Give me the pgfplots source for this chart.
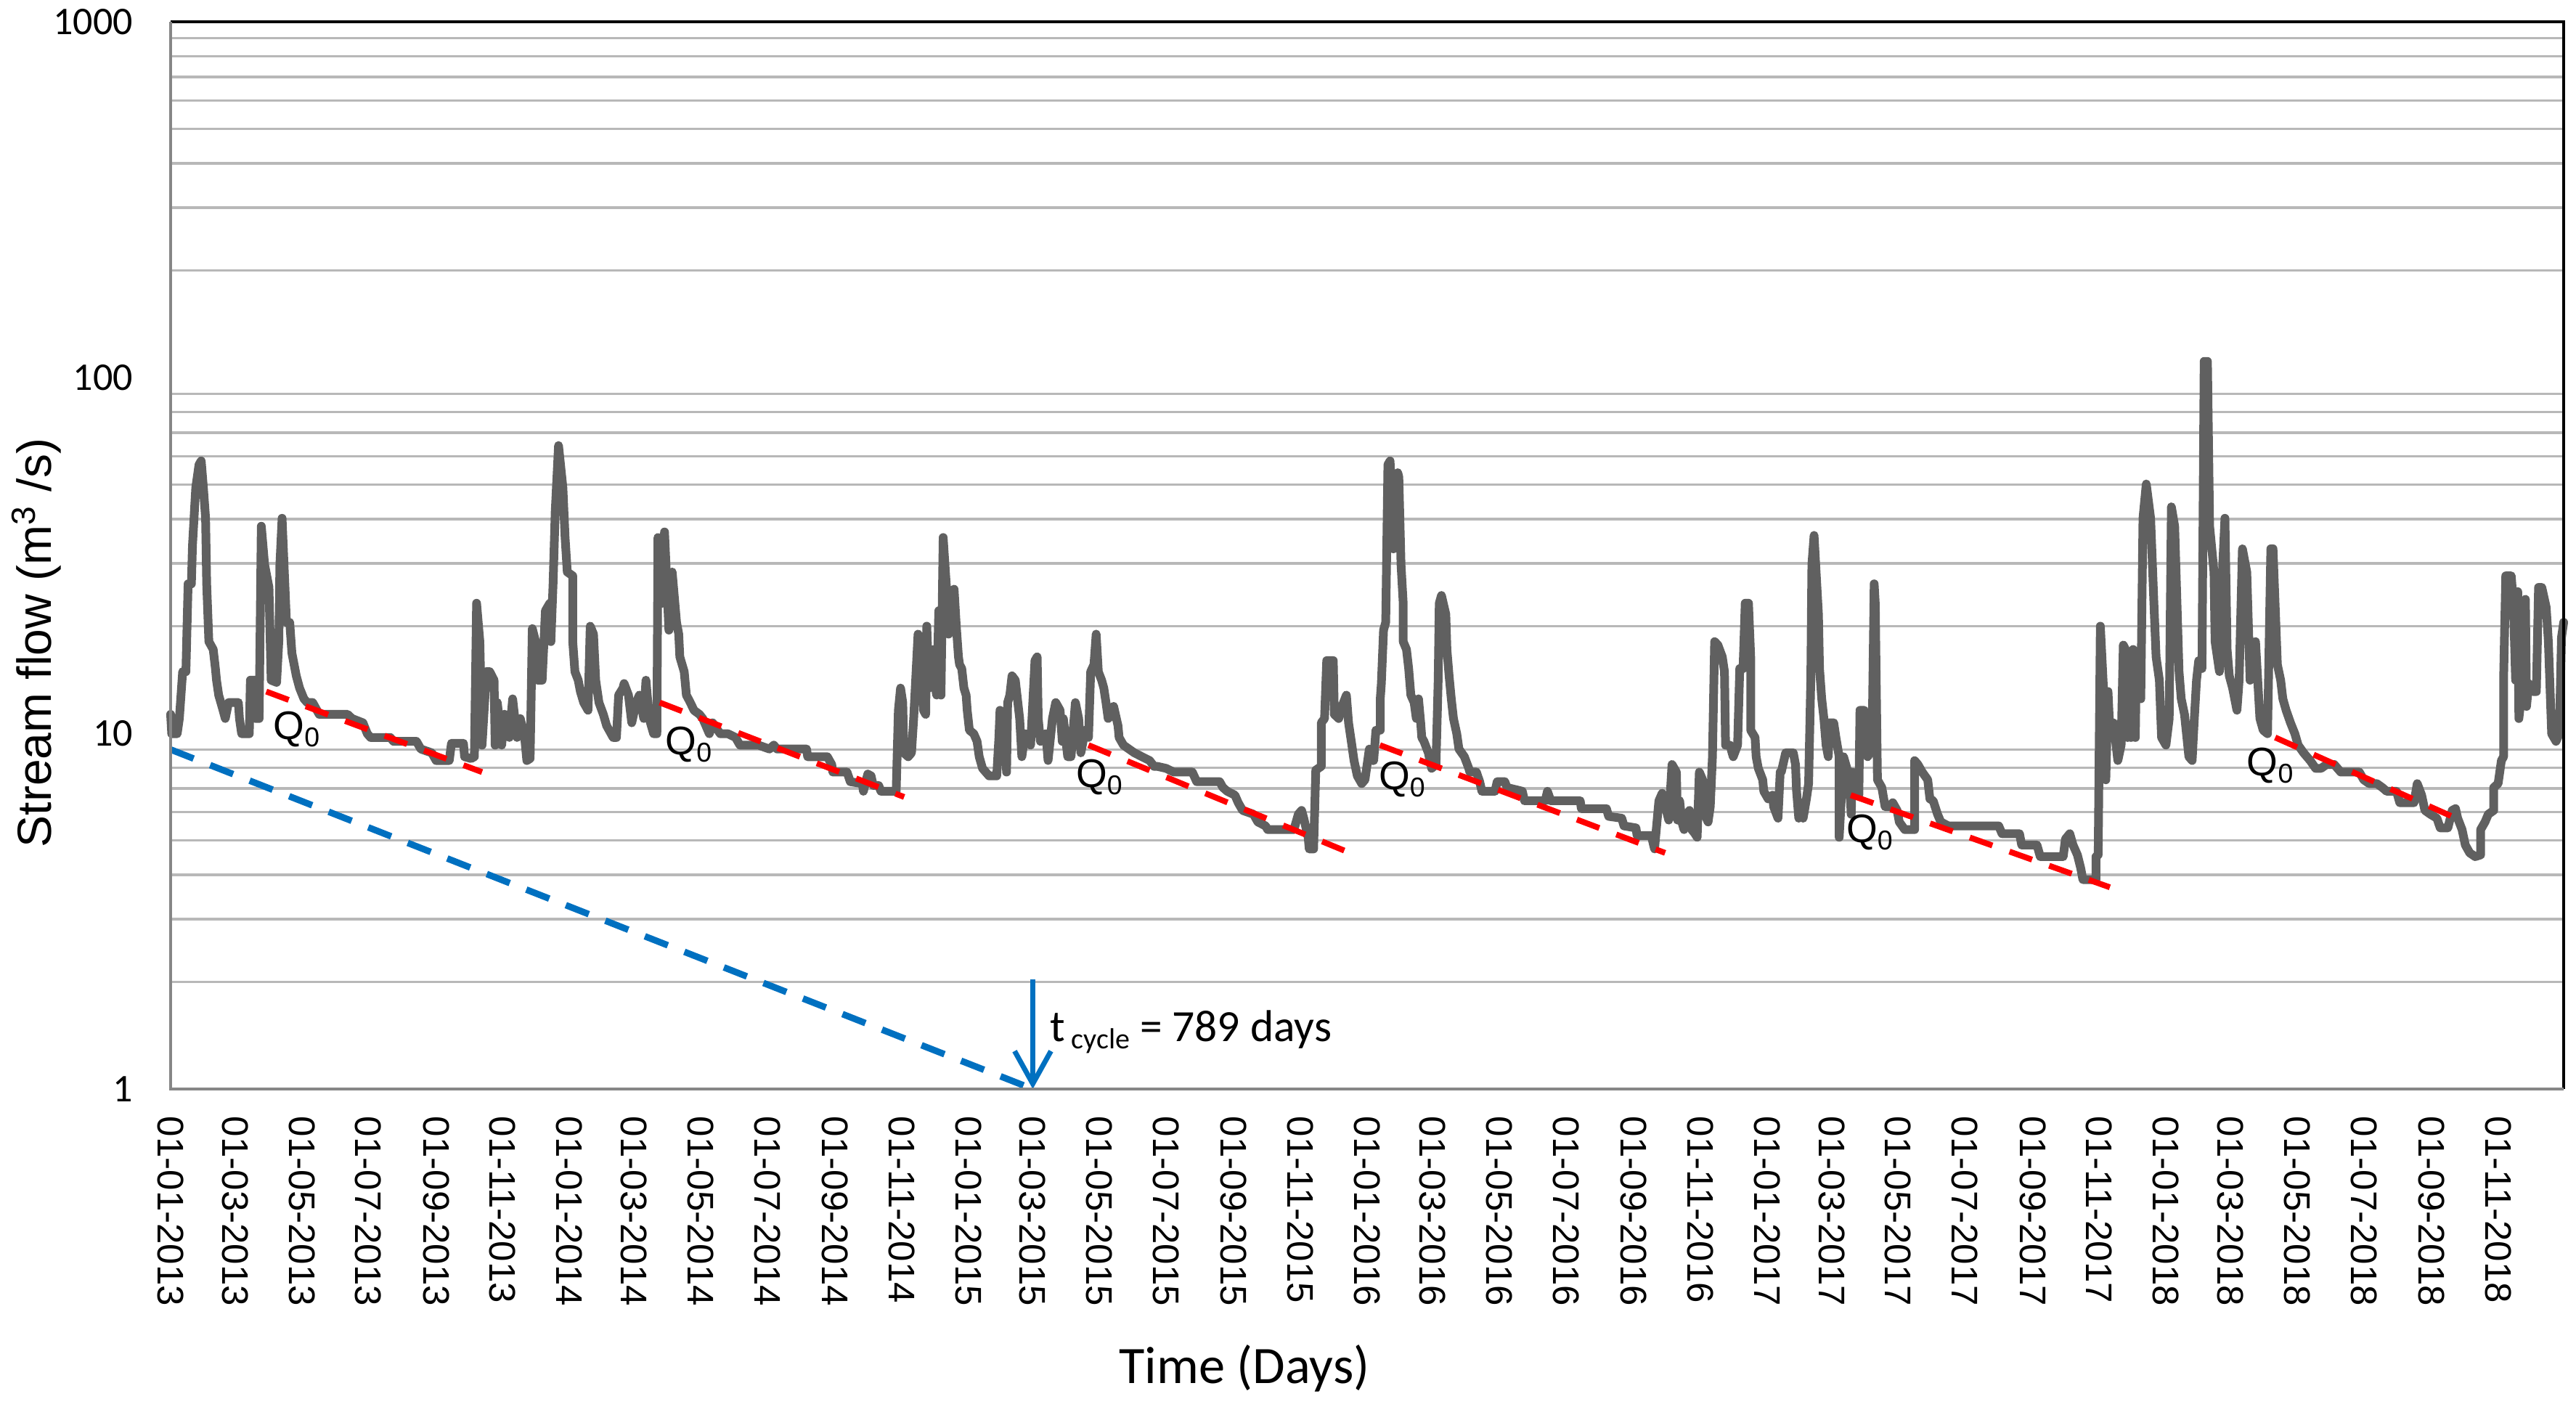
\documentclass[border=0pt]{standalone}
\usepackage{pgfplots}
\pgfplotsset{compat=1.18}
\usepackage{fontspec}
\setmainfont{Liberation Sans}
\newfontfamily\carlito{Carlito}
\usetikzlibrary{arrows.meta}

\definecolor{gridgray}{RGB}{184,184,184}
\definecolor{axisgray}{RGB}{134,134,134}
\definecolor{flowgray}{RGB}{96,96,96}
\definecolor{xlblue}{RGB}{0,112,192}

\begin{document}
\begin{tikzpicture}
\useasboundingbox (-47pt,-87.6pt) rectangle (662.6pt,300pt);
\begin{axis}[
    at={(0pt,0pt)}, anchor=south west,
    scale only axis, width=659.2pt, height=294pt,
    xmin=0, xmax=2190,
    ymode=log, ymin=1, ymax=1000,
    clip=false,
    axis line style={draw=none},
    xtick={0,59,120,181,243,304,365,424,485,546,608,669,730,789,850,911,973,1034,1095,1155,1216,1277,1339,1400,1461,1520,1581,1642,1704,1765,1826,1885,1946,2007,2069,2130},
    xticklabels={01-01-2013,01-03-2013,01-05-2013,01-07-2013,01-09-2013,01-11-2013,
                 01-01-2014,01-03-2014,01-05-2014,01-07-2014,01-09-2014,01-11-2014,
                 01-01-2015,01-03-2015,01-05-2015,01-07-2015,01-09-2015,01-11-2015,
                 01-01-2016,01-03-2016,01-05-2016,01-07-2016,01-09-2016,01-11-2016,
                 01-01-2017,01-03-2017,01-05-2017,01-07-2017,01-09-2017,01-11-2017,
                 01-01-2018,01-03-2018,01-05-2018,01-07-2018,01-09-2018,01-11-2018},
    ytick={1,10,100,1000},
    yticklabels={1,10,100,1000},
    minor ytick={2,3,4,5,6,7,8,9,20,30,40,50,60,70,80,90,200,300,400,500,600,700,800,900},
    major tick length=0pt, minor tick length=0pt,
    ymajorgrids=false, yminorgrids=true,
    minor grid style={gridgray, line width=0.7pt},
    xticklabel style={font=\fontsize{10.2}{12}\selectfont, rotate=-90, anchor=west, inner sep=0pt},
    xticklabel shift=7.4pt,
    yticklabel style={font=\carlito\fontsize{10.8}{12}\selectfont, anchor=east, inner sep=0pt},
    yticklabel shift=10.2pt,
    xlabel={Time (Days)},
    xlabel style={at={(axis description cs:0.4487,-0.276)}, anchor=base, inner sep=0pt,
                  font=\carlito\fontsize{14.5}{16}\selectfont},
    ylabel={Stream flow (m\textsuperscript{3} /s)},
    ylabel style={at={(axis description cs:-0.0561,0.418)}, anchor=center, inner sep=0pt,
                  font=\fontsize{13.2}{15}\selectfont},
]

% daily stream flow
\addplot[flowgray, line width=2.4pt, line join=round, line cap=round] coordinates {
(0,11.3) (1,9.97) (6,9.97) (8,11.0) (11,14.9) (14,14.9) (16,26.3) (19,26.3) (20,33.7) (23,49.0)
(26,56.9) (28,58.3) (30,49.0) (32,40.2) (33,26.3) (35,18.1) (39,17.2) (41,15.2) (42,14.1) (44,12.8)
(48,11.6) (50,11.0) (53,12.2) (62,12.2) (63,11.0) (65,9.97) (72,9.97) (73,14.1) (77,14.1) (78,11.0)
(81,11.0) (83,38.2) (86,29.8) (90,25.7) (92,14.1) (97,13.9) (99,18.1) (100,29.8) (102,40.2) (106,20.5)
(109,20.5) (111,16.8) (115,14.5) (118,13.4) (122,12.5) (125,12.2) (130,12.2) (136,11.3) (162,11.3) (166,11.0)
(176,10.7) (180,9.97) (183,9.73) (201,9.73) (204,9.49) (225,9.49) (229,9.03) (239,8.81) (243,8.38) (255,8.38)
(257,9.37) (268,9.37) (269,8.59) (275,8.49) (278,8.59) (280,23.2) (283,18.1) (285,9.26) (289,14.9) (292,14.9)
(296,14.1) (297,9.26) (299,12.2) (303,9.26) (305,11.3) (306,11.3) (310,9.73) (313,12.5) (317,9.73) (320,11.0)
(324,9.73) (326,8.38) (329,8.49) (331,19.7) (334,18.1) (336,14.1) (340,14.1) (343,22.1) (347,23.2) (348,18.1)
(350,26.3) (352,42.2) (355,64.4) (359,49.0) (361,35.5) (363,28.4) (368,27.7) (368,18.1) (370,14.9) (373,14.1)
(375,13.1) (378,12.2) (382,11.6) (384,20.0) (387,19.0) (389,14.1) (392,12.2) (396,11.3) (399,10.5) (405,9.73)
(408,9.73) (410,12.8) (414,13.4) (415,13.8) (419,12.8) (422,10.7) (426,12.2) (429,12.8) (433,11.0) (435,14.1)
(438,11.0) (442,9.97) (445,9.97) (446,35.5) (449,34.6) (450,23.2) (452,36.8) (456,19.5) (459,28.4) (463,20.5)
(465,19.0) (466,16.4) (470,14.9) (472,12.8) (475,12.3) (479,11.6) (484,11.3) (487,11.0) (493,9.97) (496,10.7)
(503,9.97) (510,9.97) (517,9.73) (521,9.26) (538,9.26) (548,9.03)
(552,9.26) (555,9.03) (582,9.03) (583,8.59) (601,8.59) (605,8.17) (606,7.78) (619,7.78) (622,7.31) (633,7.22)
(634,6.87) (638,7.68) (641,7.59) (643,7.13) (648,7.13) (650,6.87) (664,6.87) (666,11.6) (668,13.4) (670,12.2)
(671,8.81) (675,8.59) (678,8.81) (680,11.0) (684,19.0) (687,18.1) (689,11.6) (691,11.3) (692,20.0) (694,13.4)
(696,16.4) (698,17.2) (699,14.1) (701,12.8) (703,22.1) (705,12.8) (707,35.5) (710,25.7) (712,19.0) (714,25.0)
(717,25.4) (719,20.0) (721,16.4) (722,15.6) (724,15.2) (726,13.4) (728,12.8) (729,11.6) (731,10.2) (735,9.97)
(738,9.49) (740,8.59) (743,7.97) (749,7.59) (756,7.59) (758,9.73) (759,11.6) (761,9.26) (763,11.0) (765,7.78)
(766,12.2) (768,12.8) (770,14.5) (773,14.1) (777,11.0) (779,8.59) (782,9.97) (787,9.26) (791,16.0) (793,16.4)
(794,11.0) (796,9.49) (801,9.97) (803,8.38) (807,11.0) (810,12.2) (814,11.6) (816,9.49) (817,11.0) (821,8.59)
(824,8.59) (828,12.2) (831,11.0) (833,8.81) (837,10.2) (840,9.73) (842,14.9) (845,15.6) (847,19.0) (849,14.9)
(852,14.1) (854,13.4) (856,12.2) (858,11.0) (861,11.3) (863,11.9) (867,10.5) (868,9.73) (872,9.26) (877,9.03)
(882,8.81) (889,8.59) (896,8.38) (900,8.07) (903,8.07) (911,7.97) (918,7.78) (935,7.78) (939,7.31) (960,7.31)
(963,7.04) (967,6.87) (974,6.70) (977,6.38) (981,6.07) (991,5.92) (995,5.63) (1002,5.49) (1004,5.36) (1028,5.36)
(1032,5.92) (1035,6.07) (1037,5.77) (1041,5.10) (1042,4.73) (1046,4.73) (1048,7.88) (1053,8.07) (1053,10.7) (1056,11.0)
(1058,16.0) (1064,16.0) (1065,11.3) (1069,11.0) (1072,11.9) (1076,12.8) (1078,10.7) (1081,9.26) (1083,8.38) (1086,7.59)
(1090,7.22) (1093,7.40) (1097,9.03) (1100,8.38)
(1101,8.38) (1103,10.2) (1107,10.2) (1107,12.5) (1108,13.8) (1110,19.5) (1112,20.5) (1114,56.9) (1116,58.3) (1119,33.0)
(1121,49.0) (1123,54.0) (1124,52.5) (1126,29.8) (1128,23.2) (1128,18.1) (1131,17.2) (1133,15.2) (1135,12.8) (1138,12.2)
(1140,11.0) (1142,12.5) (1144,10.7) (1145,9.73) (1147,9.49) (1151,8.81) (1154,7.97) (1158,8.17) (1160,14.1) (1161,23.2)
(1163,24.4) (1167,21.6) (1168,17.2) (1170,14.5) (1172,12.5) (1174,11.0) (1177,9.97) (1179,9.03) (1184,8.59) (1188,7.97)
(1189,7.78) (1195,7.78) (1198,7.31) (1200,6.87) (1212,6.87) (1214,7.31) (1221,7.31) (1223,7.04) (1237,6.87) (1239,6.46)
(1258,6.46) (1260,6.87) (1263,6.46) (1290,6.46) (1291,6.14) (1314,6.14) (1316,5.84) (1328,5.77) (1330,5.49) (1341,5.42)
(1342,5.16) (1355,5.16) (1358,4.73) (1362,6.46) (1365,6.78) (1371,5.70) (1374,8.17) (1378,7.78) (1379,5.70) (1381,6.46)
(1383,5.63) (1385,5.36) (1388,5.92) (1390,6.07) (1392,5.36) (1395,5.22) (1397,5.10) (1399,7.78) (1402,7.40) (1404,5.92)
(1407,5.63) (1409,6.22) (1411,8.59) (1413,18.1) (1416,17.7) (1420,16.4) (1422,14.9) (1423,9.26) (1427,9.26) (1430,8.59)
(1434,9.26) (1436,15.2) (1439,15.2) (1441,23.2) (1444,23.2) (1446,16.4) (1446,10.2) (1450,9.73) (1451,8.59) (1453,7.97)
(1457,7.40) (1458,6.87) (1462,6.54) (1466,6.70) (1467,6.22) (1471,5.77) (1473,7.78) (1474,7.78) (1478,8.81) (1481,8.81)
(1485,8.81) (1487,8.17) (1488,6.87) (1490,5.77) (1492,6.38) (1494,5.77) (1497,6.54) (1499,7.22) (1501,14.1) (1502,29.8)
(1504,36.0) (1508,21.6) (1509,15.2) (1511,12.5) (1513,11.0) (1515,9.26) (1517,8.59) (1518,10.7) (1522,10.7) (1524,9.73)
(1527,8.59) (1527,5.10) (1531,8.59) (1536,7.59) (1538,5.92) (1539,7.78) (1543,7.22) (1545,6.70) (1546,11.6) (1550,11.6)
(1553,8.59) (1557,9.03) (1559,26.3) (1560,23.2) (1562,7.40) (1566,7.04) (1569,6.22) (1573,6.22) (1576,6.38) (1580,6.07)
(1582,5.63) (1587,5.36) (1596,5.36) (1596,8.38) (1599,8.17) (1603,7.78) (1608,7.40) (1610,6.54) (1613,6.46) (1617,5.92)
(1620,5.63) (1627,5.49) (1638,5.49) (1650,5.49)
(1673,5.49) (1676,5.22) (1692,5.22) (1694,4.85) (1708,4.85) (1711,4.50) (1732,4.50) (1734,5.04) (1738,5.22) (1741,4.85)
(1745,4.55) (1748,4.18) (1750,3.88) (1762,3.88) (1762,4.50) (1764,4.55) (1766,20.0) (1769,13.1) (1771,7.40) (1773,13.1)
(1775,9.73) (1778,10.7) (1782,8.38) (1785,9.26) (1787,17.7) (1789,17.2) (1791,9.73) (1792,15.6) (1794,9.73) (1796,17.2)
(1798,9.73) (1799,16.4) (1803,12.5) (1805,40.2) (1808,50.2) (1812,40.2) (1815,23.2) (1817,16.4) (1820,14.1) (1822,9.73)
(1826,9.26) (1829,11.0) (1831,43.3) (1834,38.2) (1838,14.9) (1840,12.5) (1843,11.3) (1847,8.59) (1850,8.38) (1852,11.0)
(1854,14.1) (1856,16.0) (1859,15.2) (1861,111) (1864,111) (1866,38.2) (1870,28.4) (1871,18.1) (1875,14.9) (1878,29.8)
(1880,40.2) (1882,17.2) (1884,14.5) (1887,13.4) (1891,11.6) (1893,14.1) (1896,33.0) (1900,28.4) (1903,14.1) (1905,17.2)
(1908,18.1) (1912,11.0) (1915,10.2) (1919,9.97) (1922,33.0) (1924,33.0) (1928,15.6) (1931,14.1) (1933,12.5) (1936,11.6)
(1940,10.7) (1944,9.97) (1947,9.26) (1952,8.81) (1958,8.38) (1963,7.97) (1968,7.97) (1973,8.17) (1980,8.17) (1986,7.78)
(2003,7.78) (2007,7.40) (2012,7.22) (2019,7.22) (2024,7.04) (2028,6.87) (2037,6.87) (2040,6.38) (2053,6.38) (2056,7.22)
(2060,6.70) (2063,6.07) (2068,5.92) (2074,5.77) (2077,5.42) (2084,5.42) (2088,6.07) (2091,6.14) (2093,5.77) (2097,5.36)
(2100,4.85) (2104,4.61) (2109,4.50) (2114,4.55) (2114,5.36) (2118,5.63) (2121,5.92) (2126,6.07) (2126,7.04) (2130,7.22)
(2133,8.38) (2135,8.59) (2135,14.1) (2137,27.7) (2142,27.7) (2144,23.2) (2146,14.1) (2148,25.0) (2149,11.0) (2151,12.5)
(2153,23.2) (2155,23.8) (2156,11.9) (2158,13.8) (2162,13.1) (2165,13.1) (2167,25.7) (2170,25.7) (2174,22.6) (2176,18.1)
(2179,9.97) (2183,9.49) (2186,9.97) (2188,18.6) (2190,20.5)
};

% recession segments
\addplot[red, line width=1.6pt, dash pattern=on 6.6pt off 5pt] coordinates {(87.5,13.1) (285,7.78)};
\addplot[red, line width=1.6pt, dash pattern=on 6.6pt off 5pt] coordinates {(447.6,12.2) (671.3,6.62)};
\addplot[red, line width=1.6pt, dash pattern=on 6.6pt off 5pt] coordinates {(840,9.26) (1074.8,4.67)};
\addplot[red, line width=1.6pt, dash pattern=on 6.6pt off 5pt] coordinates {(1106.7,9.26) (1367.7,4.61)};
\addplot[red, line width=1.6pt, dash pattern=on 6.6pt off 5pt] coordinates {(1537.6,6.70) (1774.7,3.69)};
\addplot[red, line width=1.6pt, dash pattern=on 6.6pt off 5pt] coordinates {(1926,9.73) (2087.7,5.84)};

% cycle line and arrow
\addplot[xlblue, line width=1.8pt, dash pattern=on 6.8pt off 4.9pt] coordinates {(0,9.0) (789,1)};
\addplot[xlblue, line width=1.4pt, -{Straight Barb[length=9pt,width=10pt,line width=1.4pt]}] coordinates {(789,2.03) (789,1)};

% labels
\node[anchor=base west, inner sep=0pt, font=\fontsize{11}{12}\selectfont] at (axis cs:93.4,9.6) {Q\raisebox{-2pt}{\fontsize{7.5}{8}\selectfont 0}};
\node[anchor=base west, inner sep=0pt, font=\fontsize{11}{12}\selectfont] at (axis cs:452.2,8.7) {Q\raisebox{-2pt}{\fontsize{7.5}{8}\selectfont 0}};
\node[anchor=base west, inner sep=0pt, font=\fontsize{11}{12}\selectfont] at (axis cs:828,7.05) {Q\raisebox{-2pt}{\fontsize{7.5}{8}\selectfont 0}};
\node[anchor=base west, inner sep=0pt, font=\fontsize{11}{12}\selectfont] at (axis cs:1105,6.95) {Q\raisebox{-2pt}{\fontsize{7.5}{8}\selectfont 0}};
\node[anchor=base west, inner sep=0pt, font=\fontsize{11}{12}\selectfont] at (axis cs:1533,4.92) {Q\raisebox{-2pt}{\fontsize{7.5}{8}\selectfont 0}};
\node[anchor=base west, inner sep=0pt, font=\fontsize{11}{12}\selectfont] at (axis cs:1899.5,7.6) {Q\raisebox{-2pt}{\fontsize{7.5}{8}\selectfont 0}};
\node[anchor=base west, inner sep=0pt, font=\carlito\fontsize{12.3}{14}\selectfont] at (axis cs:804,1.36) {t\raisebox{-2pt}{\fontsize{8}{9}\selectfont{} cycle} = 789 days};

% plot area border
\draw[black, line width=0.9pt] (rel axis cs:0,1) -- (rel axis cs:1,1) -- (rel axis cs:1,0);
\draw[axisgray, line width=0.75pt] (rel axis cs:0,1) -- (rel axis cs:0,0) -- (rel axis cs:1,0);
\end{axis}
\end{tikzpicture}
\end{document}
